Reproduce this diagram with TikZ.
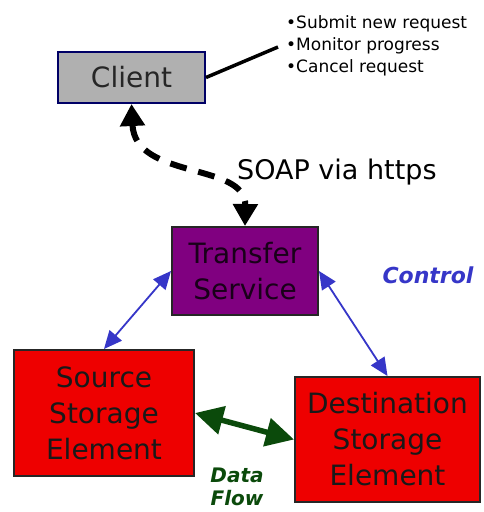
\documentclass[tikz,border=0pt]{standalone}
\usepackage{fontspec}
\setmainfont{DejaVu Sans}
\usetikzlibrary{arrows.meta}
\definecolor{boxred}{HTML}{EE0000}
\definecolor{tspurple}{HTML}{800080}
\definecolor{clientgray}{HTML}{B0B0B0}
\definecolor{ctrlblue}{HTML}{3636C8}
\definecolor{flowgreen}{HTML}{0B4A0B}
\begin{document}
\begin{tikzpicture}[x=1pt, y=-1pt,
    box/.style={draw=black!85, line width=2pt, align=center, inner sep=0pt,
        font=\fontsize{28}{36}\selectfont},
    ctrl/.style={ctrlblue, line width=1.8pt, {Triangle[length=18pt,width=16pt]}-{Triangle[length=18pt,width=16pt]}},
    lbl/.style={font=\fontsize{20}{23}\selectfont\bfseries\itshape, align=center}]
    \useasboundingbox[fill=white] (0,0) rectangle (483,512);
    \node[box, fill=clientgray, draw=blue!40!black, minimum width=147pt, minimum height=51pt,
        text=black!85] (client) at (131.5,77.5) {Client};
    \node[box, fill=tspurple, minimum width=146pt, minimum height=88pt,
        text=black!80!tspurple] (ts) at (245,271) {Transfer\\Service};
    \node[box, fill=boxred, minimum width=180pt, minimum height=126pt,
        text=black!90] (src) at (104,413) {Source\\Storage\\Element};
    \node[box, fill=boxred, minimum width=185pt, minimum height=125pt,
        text=black!90] (dst) at (387.5,439.5) {Destination\\Storage\\Element};
    \node[anchor=north west, align=left, inner sep=0pt,
        font=\fontsize{17}{22}\selectfont] (tasks) at (286,15)
        {•Submit new request\\•Monitor progress\\•Cancel request};
    \coordinate (tip) at (278,47);
    \node[anchor=west, inner sep=0pt, font=\fontsize{27}{30}\selectfont] (soap) at (237,172) {SOAP via https};
    \node[lbl, ctrlblue, font=\fontsize{22}{25}\selectfont\bfseries\itshape] (ctl) at (428,275) {Control};
    \node[lbl, flowgreen, anchor=north] (flow) at (237,464) {Data\\Flow};
    \draw[line width=3.5pt] (client.east) -- (tip);
    \draw[line width=6pt, dash pattern=on 17pt off 12pt,
        {Triangle[length=22pt,width=24pt]}-{Triangle[length=22pt,width=24pt]}]
        (client.south) .. controls (135,180) and (246,162) .. (ts.north);
    \draw[ctrl] (ts.west) -- (src.north);
    \draw[ctrl] (ts.east) -- (dst.north);
    \draw[flowgreen, line width=5.5pt, {Triangle[length=28pt,width=28pt]}-{Triangle[length=28pt,width=28pt]}]
        (src.east) -- (dst.west);
\end{tikzpicture}
\end{document}
